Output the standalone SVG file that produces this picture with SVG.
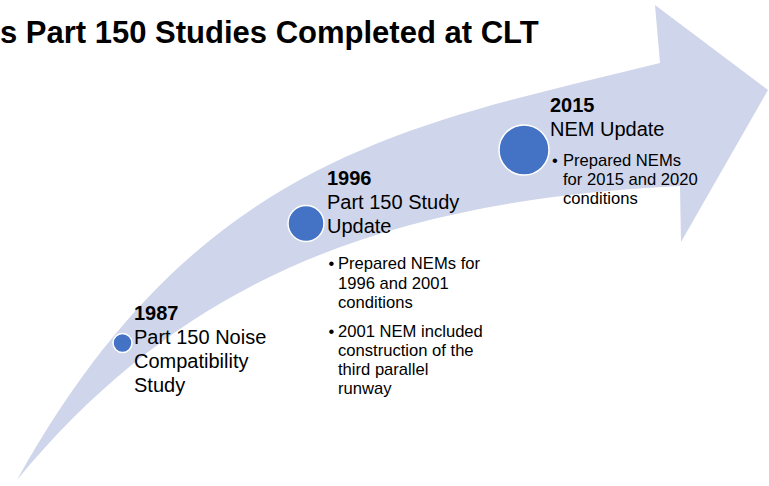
<svg xmlns="http://www.w3.org/2000/svg" width="769" height="486" viewBox="0 0 769 486">
<style>
text{font-family:"Liberation Sans",Arial,sans-serif;fill:#000}
.title{font-size:31px;font-weight:bold}
.yr{font-size:20px;font-weight:bold}
.hd{font-size:20px}
.bl{font-size:16.6px}
.dot{fill:#4472C4;stroke:#fff;stroke-width:1.5}
</style>
<rect width="769" height="486" fill="#fff"/>
<g id="title"><text class="title" x="0" y="43">s Part 150 Studies Completed at CLT</text></g>
<g id="arrow"><path d="M17,480 C197,156 410,125 660,63 L655,5 L768,90 L681,242 L680,186 C400,200 190,270 17,480 Z" fill="#CFD5EA"/></g>
<g id="connectors"></g>
<g id="n1987">
<circle class="dot" cx="122.5" cy="343" r="9.5"/>
<text class="yr" x="134" y="320">1987</text>
<text class="hd" x="134" y="344">Part 150 Noise</text>
<text class="hd" x="134" y="368">Compatibility</text>
<text class="hd" x="134" y="392">Study</text>
</g>
<g id="n1996">
<circle class="dot" cx="306" cy="223.5" r="18"/>
<text class="yr" x="327" y="185">1996</text>
<text class="hd" x="327" y="209">Part 150 Study</text>
<text class="hd" x="327" y="233">Update</text>
<text class="bl" x="328.5" y="269">•</text>
<text class="bl" x="338" y="269">Prepared NEMs for</text>
<text class="bl" x="338" y="288.5">1996 and 2001</text>
<text class="bl" x="338" y="308">conditions</text>
<text class="bl" x="328.5" y="337">•</text>
<text class="bl" x="338" y="337">2001 NEM included</text>
<text class="bl" x="338" y="356">construction of the</text>
<text class="bl" x="338" y="375">third parallel</text>
<text class="bl" x="338" y="394">runway</text>
</g>
<g id="n2015">
<circle class="dot" cx="524" cy="150" r="25"/>
<text class="yr" x="550" y="112">2015</text>
<text class="hd" x="550" y="136">NEM Update</text>
<text class="bl" x="552" y="166">•</text>
<text class="bl" x="563" y="166">Prepared NEMs</text>
<text class="bl" x="563" y="185">for 2015 and 2020</text>
<text class="bl" x="563" y="204">conditions</text>
</g>
</svg>
